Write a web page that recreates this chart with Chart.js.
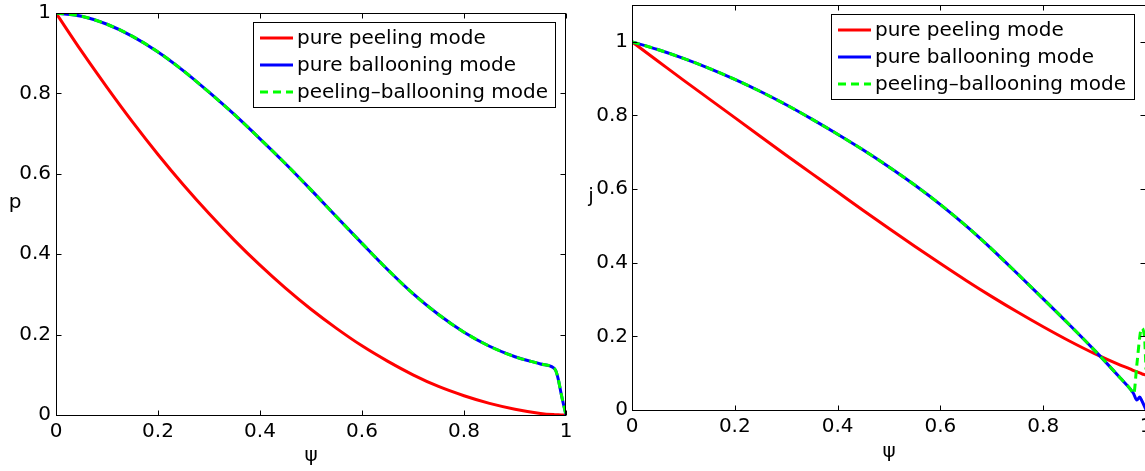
<!DOCTYPE html>
<html>
<head>
<meta charset="utf-8">
<script src="https://cdn.jsdelivr.net/npm/chart.js@4"></script>
<style>
  html, body { margin: 0; padding: 0; background: #fff; overflow: hidden; }
  canvas { position: absolute; top: 0; }
  #pChart { left: 0; }
  #jChart { left: 570px; }
</style>
</head>
<body>
<canvas id="pChart" width="600" height="471"></canvas>
<canvas id="jChart" width="576" height="471"></canvas>
<script>
// pressure profiles p(ψ)
const psiP = [0, 0.05, 0.1, 0.15, 0.2, 0.25, 0.3, 0.35, 0.4, 0.45, 0.5, 0.55, 0.6, 0.65, 0.7, 0.75, 0.8, 0.85, 0.9, 0.95, 0.975, 0.98, 0.985, 0.99, 0.995, 1];
const pPeeling = [1, 0.905, 0.815, 0.729, 0.648, 0.572, 0.501, 0.4345, 0.3726, 0.3155, 0.263, 0.2155, 0.172, 0.134, 0.1, 0.071, 0.048, 0.029, 0.0145, 0.004, 0.001, 0.0007, 0.0004, 0.0002, 0.0001, 0];
const pBallooning = [1, 0.992, 0.972, 0.942, 0.903, 0.856, 0.803, 0.747, 0.687, 0.625, 0.56, 0.493, 0.427, 0.362, 0.302, 0.25, 0.206, 0.171, 0.145, 0.127, 0.118, 0.11, 0.088, 0.056, 0.027, 0];
const pPeelBall = [1, 0.992, 0.972, 0.942, 0.903, 0.856, 0.803, 0.747, 0.687, 0.625, 0.56, 0.493, 0.427, 0.362, 0.302, 0.25, 0.206, 0.171, 0.145, 0.127, 0.118, 0.11, 0.088, 0.056, 0.027, 0];

// current profiles j(ψ)
const psiJ = [0, 0.05, 0.1, 0.15, 0.2, 0.25, 0.3, 0.35, 0.4, 0.45, 0.5, 0.55, 0.6, 0.65, 0.7, 0.75, 0.8, 0.85, 0.9, 0.95, 0.97, 0.976, 0.982, 0.988, 0.991, 0.997, 1];
const jPeeling = [1, 0.948, 0.896, 0.845, 0.794, 0.743, 0.692, 0.642, 0.592, 0.542, 0.493, 0.445, 0.398, 0.352, 0.308, 0.266, 0.226, 0.188, 0.153, 0.122, 0.111, 0.107, 0.104, 0.101, 0.099, 0.096, 0.095];
const jBallooning = [1, 0.979, 0.955, 0.928, 0.898, 0.865, 0.829, 0.79, 0.749, 0.706, 0.66, 0.611, 0.558, 0.5, 0.437, 0.37, 0.302, 0.233, 0.162, 0.087, 0.056, 0.044, 0.027, 0.035, 0.028, 0.01, 0];
const jPeelBall = [1, 0.979, 0.955, 0.928, 0.898, 0.865, 0.829, 0.79, 0.749, 0.706, 0.66, 0.611, 0.558, 0.5, 0.437, 0.37, 0.302, 0.233, 0.162, 0.087, 0.056, 0.044, 0.12, 0.2, 0.222, 0.2, 0.11];

const psiTicks = [0, 0.2, 0.4, 0.6, 0.8, 1];
const pTicks = [0, 0.2, 0.4, 0.6, 0.8, 1];
const jTicks = [0, 0.2, 0.4, 0.6, 0.8, 1];

const modeNames = ['pure peeling mode', 'pure ballooning mode', 'peeling\u2013ballooning mode'];

const FONT = { family: 'DejaVu Sans', size: 20 };
Chart.defaults.font.family = FONT.family;

const toPoints = (xs, ys) => xs.map((x, i) => ({ x: x, y: ys[i] }));

function modeSets(xs, peel, ball, pb) {
  return [
    { label: modeNames[0], data: toPoints(xs, peel), borderColor: '#ff0000', borderWidth: 3, order: 3 },
    { label: modeNames[1], data: toPoints(xs, ball), borderColor: '#0000ff', borderWidth: 3, order: 2 },
    { label: modeNames[2], data: toPoints(xs, pb), borderColor: '#00ff00', borderWidth: 3, borderDash: [8, 5], order: 1 }
  ];
}

// boxed axes with inward ticks, upright axis labels and legend
const matlabBox = {
  id: 'matlabBox',
  afterDatasetsDraw(chart, args, o) {
    const { ctx, chartArea: a } = chart;
    const xs = chart.scales.x, ys = chart.scales.y;
    const L = Math.round(a.left) + 0.5, R = Math.round(a.right) - 0.5;
    const T = Math.round(a.top) + 0.5, B = Math.round(a.bottom) + 0.5;
    ctx.save();
    ctx.strokeStyle = '#000';
    ctx.lineWidth = 1;
    ctx.strokeRect(L, T, R - L, B - T);
    ctx.beginPath();
    xs.ticks.forEach(t => {
      const px = Math.round(xs.getPixelForValue(t.value)) + 0.5;
      ctx.moveTo(px, B); ctx.lineTo(px, B - 5);
      ctx.moveTo(px, T); ctx.lineTo(px, T + 5);
    });
    ys.ticks.forEach(t => {
      const py = Math.round(ys.getPixelForValue(t.value)) + 0.5;
      ctx.moveTo(L, py); ctx.lineTo(L + 5, py);
      ctx.moveTo(R, py); ctx.lineTo(R - 5, py);
    });
    ctx.stroke();

    ctx.fillStyle = '#000';
    ctx.font = FONT.size + 'px "' + FONT.family + '"';
    ctx.textBaseline = 'middle';
    ctx.textAlign = 'center';
    ctx.fillText('\u03c8', (a.left + a.right) / 2, o.xLabelY);
    ctx.fillText(o.yLabel, o.yLabelX, o.yLabelY);

    // legend
    const g = o.legend;
    ctx.fillStyle = '#fff';
    ctx.fillRect(g.x, g.y, g.w, g.h);
    ctx.strokeRect(g.x + 0.5, g.y + 0.5, g.w, g.h);
    ctx.textAlign = 'left';
    chart.data.datasets.forEach((ds, i) => {
      const ry = g.y + g.rows[i];
      ctx.save();
      ctx.strokeStyle = ds.borderColor;
      ctx.lineWidth = ds.borderWidth;
      ctx.setLineDash(ds.borderDash || []);
      ctx.beginPath();
      ctx.moveTo(g.x + 7, ry);
      ctx.lineTo(g.x + 40, ry);
      ctx.stroke();
      ctx.restore();
      ctx.fillStyle = '#000';
      ctx.fillText(ds.label, g.x + 44, ry + 1);
    });
    ctx.restore();
  }
};

function makeScales(yMax, yTicks, yWidth, xHeight, yPad) {
  return {
    x: {
      type: 'linear', min: 0, max: 1,
      grid: { display: false, drawTicks: false },
      border: { display: false },
      afterBuildTicks: s => { s.ticks = psiTicks.map(v => ({ value: v })); },
      ticks: { color: '#000', font: FONT, padding: 5, maxRotation: 0, autoSkip: false, callback: v => String(v) },
      afterFit: s => { s.height = xHeight; s.paddingLeft = 0; s.paddingRight = 0; }
    },
    y: {
      type: 'linear', min: 0, max: yMax,
      grid: { display: false, drawTicks: false },
      border: { display: false },
      afterBuildTicks: s => { s.ticks = yTicks.map(v => ({ value: v })); },
      ticks: { color: '#000', font: FONT, padding: yPad, autoSkip: false, callback: v => String(v) },
      afterFit: s => { s.width = yWidth; s.paddingTop = 0; s.paddingBottom = 0; }
    }
  };
}

function baseOptions(scales, pad, box) {
  return {
    responsive: false,
    animation: false,
    devicePixelRatio: 1,
    layout: { padding: pad, autoPadding: false },
    elements: { point: { radius: 0 }, line: { cubicInterpolationMode: 'monotone', fill: false } },
    plugins: { legend: { display: false }, tooltip: { enabled: false }, matlabBox: box },
    scales: scales
  };
}

// p(ψ)
new Chart(document.getElementById('pChart'), {
  type: 'line',
  data: { datasets: modeSets(psiP, pPeeling, pBallooning, pPeelBall) },
  options: baseOptions(makeScales(1, pTicks, 56, 56, 5), { left: 0, right: 34, top: 13, bottom: 0 }, {
    xLabelY: 456, yLabel: 'p', yLabelX: 15, yLabelY: 203,
    legend: { x: 253, y: 22, w: 302, h: 85, rows: [16, 43, 70] }
  }),
  plugins: [matlabBox]
});

// j(ψ)
new Chart(document.getElementById('jChart'), {
  type: 'line',
  data: { datasets: modeSets(psiJ, jPeeling, jBallooning, jPeelBall) },
  options: baseOptions(makeScales(1.1, jTicks, 62, 61, 4), { left: 0, right: 0, top: 5, bottom: 0 }, {
    xLabelY: 452, yLabel: 'j', yLabelX: 21, yLabelY: 197,
    legend: { x: 261, y: 14, w: 303, h: 85, rows: [16, 43, 70] }
  }),
  plugins: [matlabBox]
});
</script>
</body>
</html>
